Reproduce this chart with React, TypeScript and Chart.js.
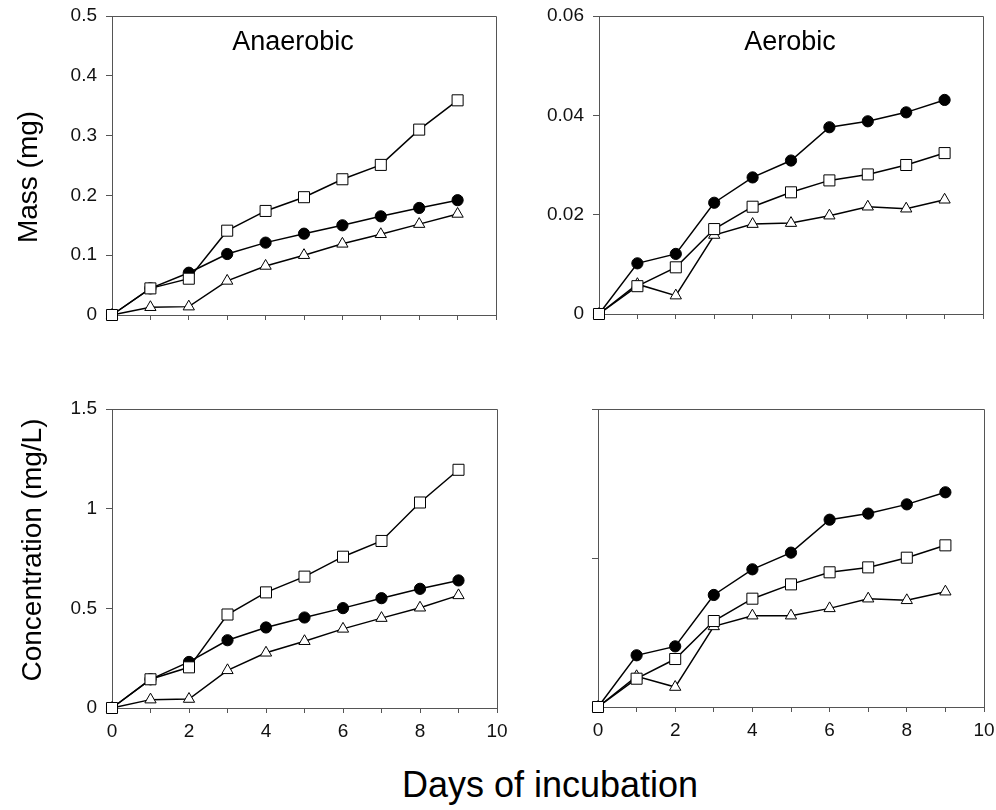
import React, { useEffect, useRef } from 'react';
import { Chart, registerables } from 'chart.js';

Chart.register(...registerables);

// ---------- data ----------
const days = [0, 1, 2, 3, 4, 5, 6, 7, 8, 9];

const anaMassSquare = [0, 0.0445, 0.0607, 0.141, 0.174, 0.197, 0.227, 0.251, 0.31, 0.359];
const anaMassCircle = [0, 0.0445, 0.0707, 0.102, 0.121, 0.136, 0.15, 0.165, 0.179, 0.192];
const anaMassTriangle = [0, 0.013, 0.014, 0.057, 0.082, 0.1, 0.119, 0.135, 0.152, 0.169];

const aerMassSquare = [0, 0.0056, 0.0094, 0.0171, 0.0216, 0.0245, 0.0269, 0.0281, 0.03, 0.0324];
const aerMassCircle = [0, 0.0102, 0.0121, 0.0224, 0.0275, 0.0309, 0.0376, 0.0388, 0.0406, 0.0431];
const aerMassTriangle = [0, 0.006, 0.0037, 0.0159, 0.0181, 0.0183, 0.0198, 0.0216, 0.0212, 0.023];

const anaConcSquare = [0, 0.144, 0.204, 0.469, 0.58, 0.659, 0.759, 0.838, 1.031, 1.195];
const anaConcCircle = [0, 0.144, 0.231, 0.34, 0.404, 0.454, 0.501, 0.551, 0.598, 0.64];
const anaConcTriangle = [0, 0.042, 0.045, 0.189, 0.277, 0.335, 0.397, 0.451, 0.503, 0.565];

const aerConcSquare = [0, 0.019, 0.0322, 0.0577, 0.0727, 0.0823, 0.0904, 0.0937, 0.1002, 0.1085];
const aerConcCircle = [0, 0.0347, 0.0407, 0.0752, 0.0924, 0.1036, 0.1257, 0.1298, 0.136, 0.1441];
const aerConcTriangle = [0, 0.0206, 0.0134, 0.0541, 0.0613, 0.0613, 0.0662, 0.0727, 0.0716, 0.0774];

const xMax = 10;
const xStep = 1;

const FONT = '"Liberation Sans", Arial, Helvetica, sans-serif';
const AXIS_COLOR = '#555';

const boxPlugin = {
  id: 'boxFrame',
  afterDraw(chart: any) {
    const { ctx, chartArea } = chart;
    const l = Math.round(chartArea.left) + 0.5;
    const r = Math.round(chartArea.right) + 0.5;
    const t = Math.round(chartArea.top) + 0.5;
    const b = Math.round(chartArea.bottom) + 0.5;
    ctx.save();
    ctx.strokeStyle = AXIS_COLOR;
    ctx.lineWidth = 1;
    ctx.beginPath();
    ctx.moveTo(l, t);
    ctx.lineTo(r, t);
    ctx.lineTo(r, b);
    ctx.stroke();
    ctx.restore();
  },
};

type PanelProps = {
  left: number;
  top: number;
  width: number;
  height: number;
  padTop: number;
  padRight: number;
  yWidth: number;
  xHeight: number;
  yMax: number;
  yStep: number;
  showY: boolean;
  showX: boolean;
  square: number[];
  circle: number[];
  triangle: number[];
};

function Panel(p: PanelProps) {
  const ref = useRef<HTMLCanvasElement | null>(null);
  useEffect(() => {
    if (!ref.current) return;
    const mk = (data: number[], style: string, fill: string, radius: number) => ({
      data: days.map((d, i) => ({ x: d, y: data[i] })),
      borderColor: '#000',
      borderWidth: 1.5,
      pointStyle: style,
      pointRadius: radius,
      pointBackgroundColor: fill,
      pointBorderColor: '#000',
      pointBorderWidth: 1,
      showLine: true,
      clip: false,
      tension: 0,
    });
    const chart = new Chart(ref.current, {
      type: 'scatter',
      data: {
        datasets: [
          mk(p.square, 'rect', '#fff', 7.8),
          mk(p.circle, 'circle', '#000', 5.6),
          mk(p.triangle, 'triangle', '#fff', 6.5),
        ] as any,
      },
      options: {
        responsive: false,
        animation: false,
        devicePixelRatio: 1,
        layout: { padding: { top: p.padTop, right: p.padRight, left: 0, bottom: 0 } },
        plugins: { legend: { display: false }, tooltip: { enabled: false }, title: { display: false } },
        scales: {
          x: {
            type: 'linear',
            min: 0,
            max: xMax,
            afterFit: (s: any) => {
              s.height = p.xHeight;
            },
            border: { display: true, color: AXIS_COLOR, width: 1 },
            grid: { display: true, drawOnChartArea: false, drawTicks: true, tickLength: 5, color: AXIS_COLOR },
            ticks: {
              stepSize: xStep,
              autoSkip: false,
              maxRotation: 0,
              padding: 7,
              color: '#111',
              font: { family: FONT, size: 19 },
              callback: (v: any) => (p.showX && Number(v) % 2 === 0 ? String(v) : ''),
            },
          },
          y: {
            type: 'linear',
            min: 0,
            max: p.yMax,
            afterFit: (s: any) => {
              s.width = p.yWidth;
            },
            border: { display: true, color: AXIS_COLOR, width: 1 },
            grid: { display: true, drawOnChartArea: false, drawTicks: true, tickLength: 6, color: AXIS_COLOR },
            ticks: {
              stepSize: p.yStep,
              autoSkip: false,
              padding: 9,
              color: '#111',
              font: { family: FONT, size: 19 },
              callback: (v: any) => (p.showY ? String(Math.round(Number(v) * 1000) / 1000) : ''),
            },
          },
        },
      } as any,
      plugins: [boxPlugin],
    });
    return () => chart.destroy();
  }, []);
  return (
    <canvas
      ref={ref}
      width={p.width}
      height={p.height}
      style={{ position: 'absolute', left: p.left, top: p.top, width: p.width, height: p.height }}
    />
  );
}

const textBase: React.CSSProperties = {
  position: 'absolute',
  fontFamily: FONT,
  color: '#000',
  whiteSpace: 'nowrap',
  lineHeight: 1,
};

export default function App() {
  return (
    <div style={{ position: 'absolute', left: 0, top: 0, width: 996, height: 810, background: '#fff', overflow: 'hidden' }}>
      <Panel
        left={0} top={-6} width={510} height={345}
        padTop={22} padRight={14} yWidth={112} xHeight={24}
        yMax={0.5} yStep={0.1} showY={true} showX={false}
        square={anaMassSquare} circle={anaMassCircle} triangle={anaMassTriangle}
      />
      <Panel
        left={500} top={-6} width={496} height={344}
        padTop={22} padRight={13} yWidth={99} xHeight={24}
        yMax={0.06} yStep={0.02} showY={true} showX={false}
        square={aerMassSquare} circle={aerMassCircle} triangle={aerMassTriangle}
      />
      <Panel
        left={0} top={380} width={522} height={368}
        padTop={29} padRight={25} yWidth={112} xHeight={40}
        yMax={1.5} yStep={0.5} showY={true} showX={true}
        square={anaConcSquare} circle={anaConcCircle} triangle={anaConcTriangle}
      />
      <Panel
        left={500} top={380} width={512} height={368}
        padTop={29} padRight={28} yWidth={98} xHeight={41}
        yMax={0.2} yStep={0.1} showY={false} showX={true}
        square={aerConcSquare} circle={aerConcCircle} triangle={aerConcTriangle}
      />

      <div style={{ ...textBase, fontSize: 27, left: 293, top: 28, transform: 'translateX(-50%)' }}>Anaerobic</div>
      <div style={{ ...textBase, fontSize: 27, left: 790, top: 28, transform: 'translateX(-50%)' }}>Aerobic</div>

      <div style={{ ...textBase, fontSize: 28, left: 28, top: 177, transform: 'translate(-50%, -50%) rotate(-90deg)' }}>Mass (mg)</div>
      <div style={{ ...textBase, fontSize: 28, left: 32, top: 550, transform: 'translate(-50%, -50%) rotate(-90deg)' }}>Concentration (mg/L)</div>

      <div style={{ ...textBase, fontSize: 36, left: 550, top: 767, transform: 'translateX(-50%)' }}>Days of incubation</div>
    </div>
  );
}
